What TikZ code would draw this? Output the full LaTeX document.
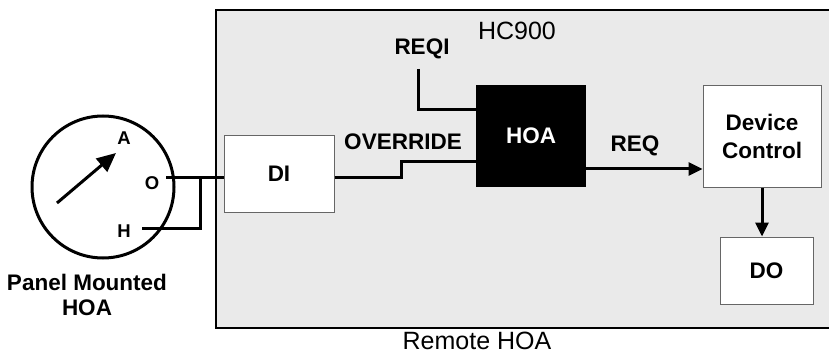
\documentclass[tikz,border=0pt]{standalone}
\usepackage{fontspec}
\setmainfont{Liberation Sans}
\usetikzlibrary{arrows.meta}
\definecolor{panelgray}{RGB}{234,234,234}
\tikzstyle{block}=[rectangle,draw=black!60,fill=white,line width=1pt,font=\bfseries\fontsize{22.5}{25}\selectfont,align=center,inner sep=0pt]
\tikzstyle{lbl}=[font=\bfseries\fontsize{22.5}{25}\selectfont,inner sep=0pt]
\tikzstyle{swpos}=[font=\bfseries\fontsize{18.5}{20}\selectfont,inner sep=0pt]
\tikzstyle{wire}=[line width=3pt]
\tikzstyle{tip}=[-{Triangle[length=14pt,width=13pt]}]

\begin{document}
\begin{tikzpicture}[x=1pt,y=-1pt]
\useasboundingbox (0,0) rectangle (829,358);
\fill[panelgray] (216,10) rectangle (835,328);
\draw[line width=1.5pt] (835,10) -- (216,10) -- (216,328) -- (835,328);
\node[font=\fontsize{25}{28}\selectfont] at (517,31) (hc) {HC900};
\node[font=\fontsize{25}{28}\selectfont] at (477,341) (remote) {Remote HOA};
% switch
\node[circle,draw,line width=3pt,minimum size=142pt,inner sep=0pt] at (103,187) (sw) {};
\node[swpos] at (124,138) (a) {A};
\node[swpos] at (152,183) (o) {O};
\node[swpos] at (124,231) (h) {H};
\coordinate (ot) at (166,178);
\coordinate (ht) at (142,228);
\coordinate (ptr) at (57,203);
\draw[wire,-{Triangle[length=19pt,width=17pt]}] (ptr) -- (116,153);
\node[lbl,align=center] at (87,295) (panel) {Panel Mounted\\HOA};
% blocks
\node[block,minimum width=110pt,minimum height=76pt] at (279,174) (di) {DI};
\node[rectangle,fill=black,text=white,font=\bfseries\fontsize{22.5}{25}\selectfont,minimum width=110pt,minimum height=102pt] at (531,136) (hoa) {HOA};
\node[block,minimum width=118pt,minimum height=101pt] at (762,136.5) (dc) {Device\\[3pt]Control};
\node[block,minimum width=93pt,minimum height=67pt] at (766.5,270.5) (do) {DO};
\node[lbl] at (403,142) (ovr) {OVERRIDE};
\node[lbl] at (422,49) (reqi) {REQI};
\node[lbl] at (635,146) (req) {REQ};
\coordinate (rq) at (418,69);
\coordinate (jog) at (401,178);
% wires
\draw[wire] (ot) -- (ot -| di.west);
\draw[wire] (ht) -| (200,178);
\draw[wire] (di.east |- ot) -- (jog) |- (hoa.west |- 0,162);
\draw[wire] (rq) |- (hoa.west |- 0,110);
\draw[wire,tip] (hoa.east |- 0,169) -- (dc.west |- 0,169);
\draw[wire,tip] (dc.south) -- (dc.south |- do.north);
\end{tikzpicture}
\end{document}
